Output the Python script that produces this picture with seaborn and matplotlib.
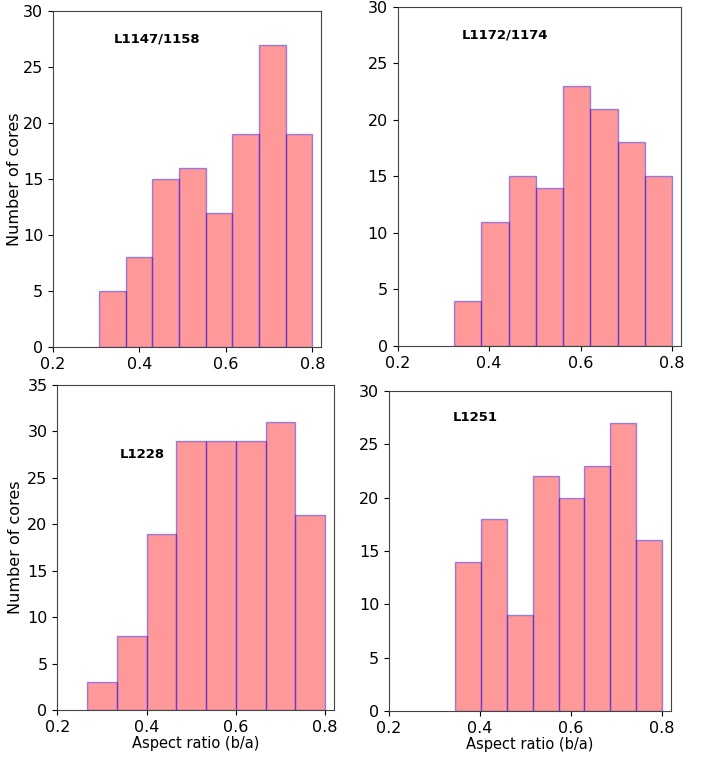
import numpy as np
import pandas as pd
import seaborn as sns
import matplotlib
matplotlib.use("Agg")
import matplotlib.pyplot as plt

# -------------------------------
# Data: histogram counts per region (8 bins each, upper edge 0.8)
# -------------------------------
regions = ["L1147/1158", "L1172/1174", "L1228", "L1251"]
bin_low = [0.306, 0.324, 0.267, 0.346]
bin_high = [0.8, 0.8, 0.8, 0.8]
counts_l1147 = [5, 8, 15, 16, 12, 19, 27, 19]
counts_l1172 = [4, 11, 15, 14, 23, 21, 18, 15]
counts_l1228 = [3, 8, 19, 29, 29, 29, 31, 21]
counts_l1251 = [14, 18, 9, 22, 20, 23, 27, 16]
all_counts = [counts_l1147, counts_l1172, counts_l1228, counts_l1251]
y_max = [30, 30, 35, 30]

# axes positions [left, bottom, width, height] in figure fractions
positions = [
    [0.0749, 0.5416, 0.3785, 0.4439],
    [0.5615, 0.5432, 0.4006, 0.4478],
    [0.0809, 0.0621, 0.3908, 0.4293],
    [0.5494, 0.0608, 0.3983, 0.4227],
]
ylabel_x = {0: -0.115, 2: -0.125}

fig = plt.figure(figsize=(7.08, 7.57), dpi=100)

for i, name in enumerate(regions):
    nbins = len(all_counts[i])
    edges = np.linspace(bin_low[i], bin_high[i], nbins + 1)
    df = pd.DataFrame({
        "ratio": (edges[:-1] + edges[1:]) / 2,
        "n": all_counts[i],
    })
    ax = fig.add_axes(positions[i])
    sns.histplot(data=df, x="ratio", weights="n", bins=nbins,
                 binrange=(bin_low[i], bin_high[i]), ax=ax,
                 color="red", edgecolor=(0, 0, 1, 0.4), alpha=0.4, linewidth=1)
    ax.set_xlim(0.2, 0.82)
    ax.set_ylim(0, y_max[i])
    ax.set_xticks([0.2, 0.4, 0.6, 0.8])
    ax.tick_params(labelsize=11.5)
    for s in ax.spines.values():
        s.set_color("#444444")
    ax.text(0.34, 27.5, name, fontsize=9.5, weight="bold", va="center", ha="left")
    if i in (0, 2):
        ax.set_ylabel("Number of cores", fontsize=11.5)
        ax.yaxis.set_label_coords(ylabel_x[i], 0.5)
    else:
        ax.set_ylabel("")
    if i in (2, 3):
        ax.set_xlabel("Aspect ratio (b/a)", fontsize=10.5, labelpad=1)
    else:
        ax.set_xlabel("")

plt.savefig("out.png", dpi=100)
plt.close()
